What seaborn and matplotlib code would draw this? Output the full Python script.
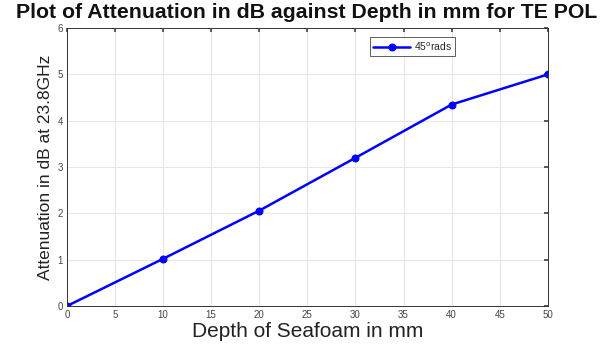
import matplotlib
matplotlib.use("Agg")
import matplotlib.pyplot as plt
import seaborn as sns
import pandas as pd

depth_mm = [0, 10, 20, 30, 40, 50]
attenuation_db = [0.0, 1.02, 2.06, 3.20, 4.35, 5.00]
series_label = "45$^{\\mathrm{o}}$rads"
x_ticks = [0, 5, 10, 15, 20, 25, 30, 35, 40, 45, 50]
y_ticks = [0, 1, 2, 3, 4, 5, 6]

sns.set_theme(style="white")
plt.rcParams['font.family'] = ['Liberation Sans', 'DejaVu Sans']

df = pd.DataFrame({"depth": depth_mm, "att": attenuation_db})

fig = plt.figure(figsize=(6.08, 3.47), dpi=100)
ax = fig.add_axes([0.110, 0.118, 0.791, 0.801])
sns.lineplot(data=df, x="depth", y="att", ax=ax, color="#0000ff", linewidth=1.8,
             marker="o", markersize=5, markeredgecolor="#0000ff", label=series_label)

ax.set_xlim(0, 50)
ax.set_ylim(0, 6)
ax.set_xticks(x_ticks)
ax.set_yticks(y_ticks)
ax.grid(True, color="#e6e6e6", linewidth=0.7)
ax.tick_params(axis="both", direction="in", length=3, labelsize=7, colors="#444444",
               top=True, right=True, pad=3)
for s in ax.spines.values():
    s.set_color("#333333")
    s.set_linewidth(0.7)

ax.set_xlabel("Depth of Seafoam in mm", fontsize=15, color="#222222", labelpad=1)
ax.set_ylabel("Attenuation in dB at 23.8GHz", fontsize=12.5, color="#222222", labelpad=3)
fig.text(0.505, 0.963, "Plot of Attenuation in dB against Depth in mm for TE POL",
         ha="center", va="center", fontsize=15.3, fontweight="bold", color="#111111")

leg = ax.legend(loc="upper left", bbox_to_anchor=(0.63, 0.968), fontsize=7.5,
                frameon=True, fancybox=False, edgecolor="#333333", handlelength=3.6,
                borderpad=0.3, handletextpad=0.3, borderaxespad=0)
leg.get_frame().set_linewidth(0.7)

fig.savefig("out.png", dpi=100)
